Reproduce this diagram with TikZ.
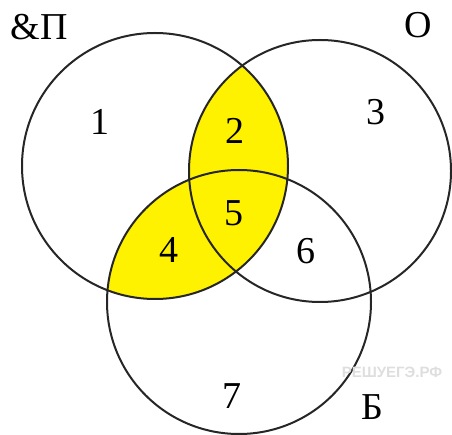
\documentclass[tikz,border=0pt]{standalone}
\usepackage{fontspec}
\setmainfont{Liberation Serif}
\newfontfamily\wmfont{Liberation Sans}
\begin{document}
\begin{tikzpicture}[x=1pt,y=-1pt,
  circ/.style={draw=black!85,line width=2pt},
  lbl/.style={font=\fontsize{38}{40}\selectfont,inner sep=0pt},
  set/.style={font=\fontsize{38}{40}\selectfont,inner sep=0pt}]
\useasboundingbox (0,0) rectangle (452,435);
\coordinate (cL) at (155,166);
\coordinate (cR) at (320,171);
\coordinate (cB) at (239,302);
\begin{scope}
  \clip (cL) circle[radius=133];
  \fill[yellow] (cR) circle[radius=131];
  \fill[yellow] (cB) circle[radius=132];
\end{scope}
\draw[circ] (cL) circle[radius=133];
\draw[circ] (cR) circle[radius=131];
\draw[circ] (cB) circle[radius=132];
\node[lbl] (n1) at (100,122) {1};
\node[lbl] (n2) at (235,131) {2};
\node[lbl] (n3) at (376,112) {3};
\node[lbl] (n4) at (169,250) {4};
\node[lbl] (n5) at (234,213) {5};
\node[lbl] (n6) at (306,251) {6};
\node[lbl] (n7) at (232,396) {7};
\node[set] (sB) at (372,407) {Б};
\node[set] (sO) at (418,25) {О};
\node[set,anchor=east] (sL) at (68,27) {\&П};
\node[font=\wmfont\fontsize{15}{16}\selectfont\bfseries,text=black!13,inner sep=0pt] (wm) at (392,372) {РЕШУЕГЭ.РФ};
\end{tikzpicture}
\end{document}
